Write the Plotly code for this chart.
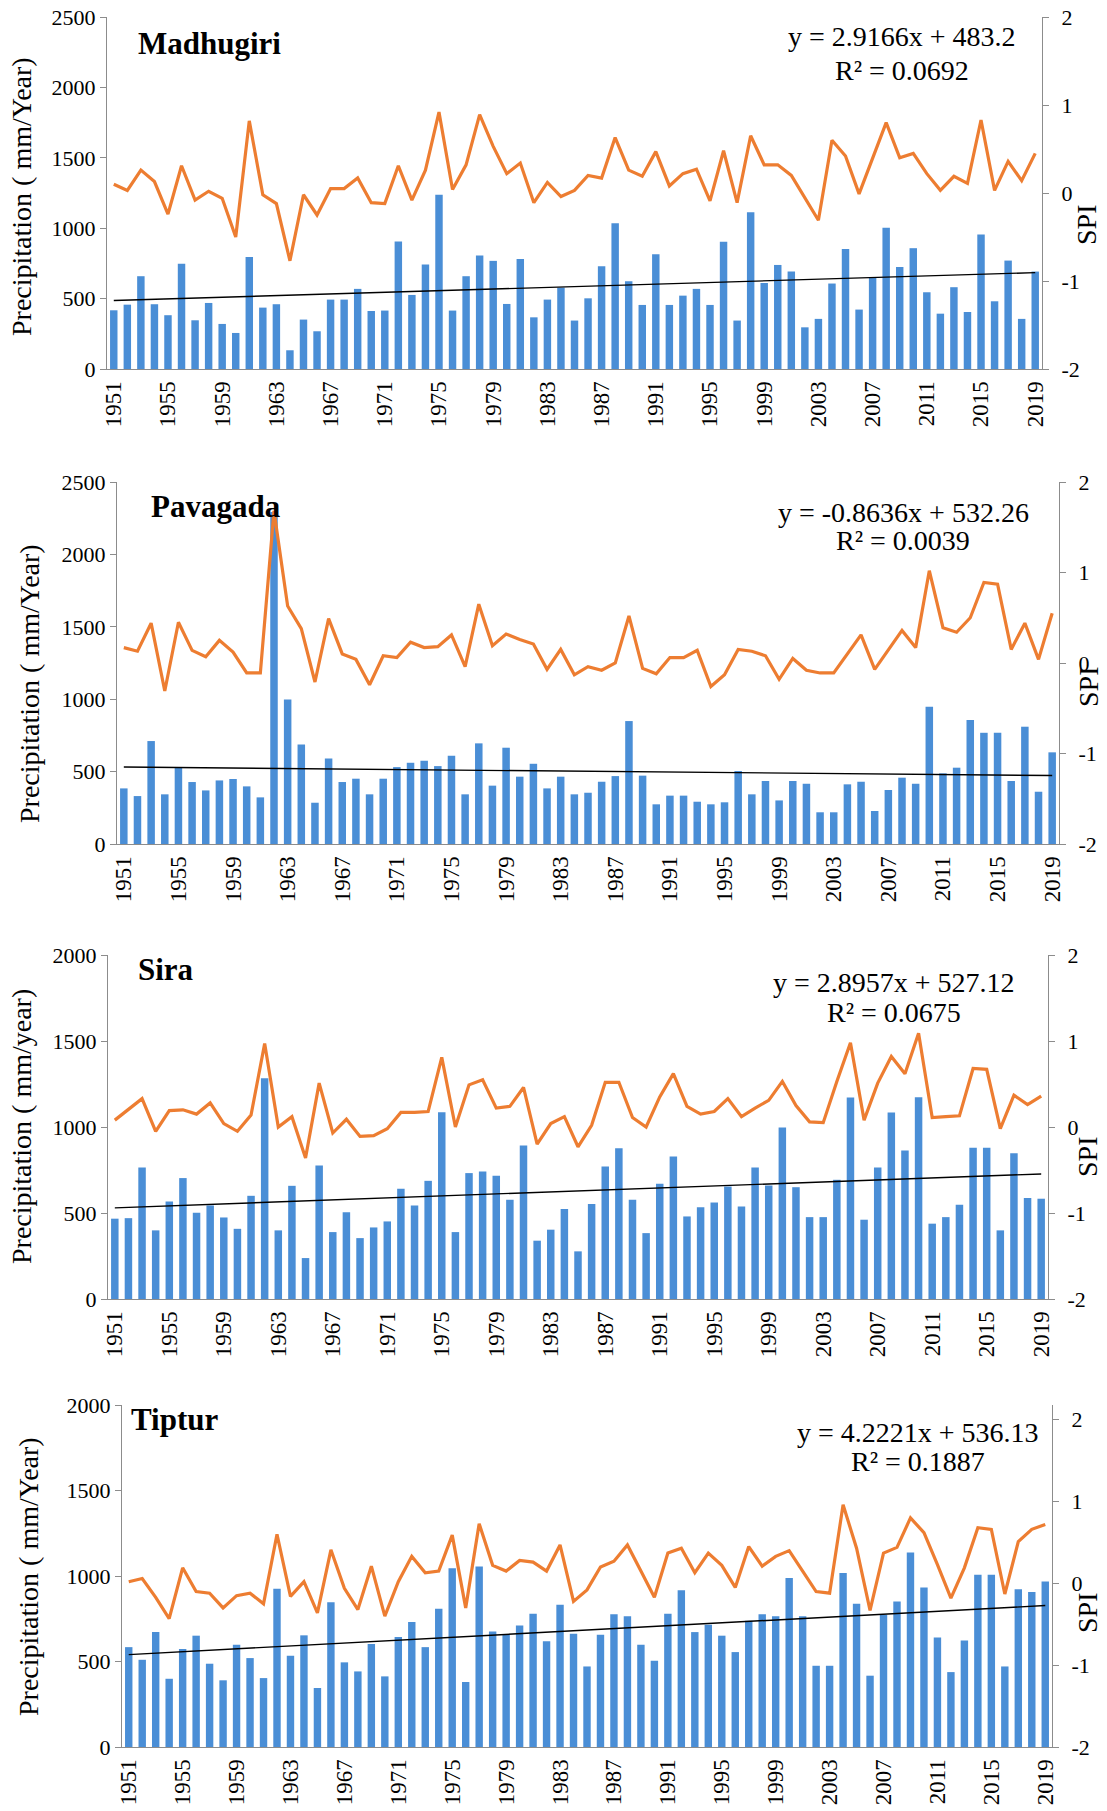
import plotly.graph_objects as go

years = list(range(1951, 2020))
year_ticks = list(range(1951, 2020, 4))

# ---- Madhugiri ----
madhugiri_rain = [417, 457, 659, 460, 382, 747, 346, 469, 320, 256, 796, 436, 460, 133, 351, 268, 493, 493, 569, 412, 415, 905, 526, 742,
                  1237, 415, 659, 806, 768, 462, 782, 367, 493, 578, 344, 502, 730, 1036, 623, 455, 815, 455, 521, 569, 455, 903, 344,
                  1114, 611, 739, 692, 296, 356, 607, 853, 422, 647, 1003, 725, 858, 545, 393, 581, 405, 955, 481, 770, 356, 692]
madhugiri_spi = [0.10, 0.03, 0.26, 0.13, -0.24, 0.31, -0.08, 0.02, -0.06, -0.50, 0.82, -0.02, -0.12, -0.77, -0.02, -0.25, 0.05, 0.05, 0.17, -0.11, -0.12, 0.31, -0.08, 0.26,
                 0.92, 0.04, 0.32, 0.89, 0.53, 0.22, 0.34, -0.11, 0.12, -0.04, 0.03, 0.20, 0.17, 0.63, 0.26, 0.19, 0.47, 0.08, 0.22, 0.27, -0.09, 0.48, -0.11,
                 0.65, 0.32, 0.32, 0.20, -0.05, -0.31, 0.60, 0.42, -0.01, 0.39, 0.80, 0.40, 0.45, 0.22, 0.03, 0.19, 0.11, 0.83, 0.03, 0.36, 0.14, 0.45]

# ---- Pavagada ----
pavagada_rain = [384, 331, 711, 343, 529, 428, 370, 439, 449, 398, 322, 2293, 998, 688, 285, 591, 428, 451, 343, 451, 531, 561, 575,
                 538, 610, 343, 695, 403, 665, 465, 554, 384, 465, 343, 354, 430, 469, 849, 472, 274, 334, 334, 292, 274, 288, 504,
                 343, 435, 301, 435, 416, 219, 219, 412, 430, 228, 373, 458, 416, 948, 488, 527, 856, 768, 768, 435, 810, 361, 633]
pavagada_spi = [0.17, 0.13, 0.44, -0.31, 0.45, 0.14, 0.07, 0.25, 0.12, -0.11, -0.11, 1.68, 0.63, 0.38, -0.21, 0.49, 0.10, 0.04, -0.24, 0.08, 0.06, 0.23, 0.17,
                0.18, 0.31, -0.04, 0.65, 0.19, 0.32, 0.26, 0.21, -0.07, 0.15, -0.13, -0.04, -0.08, 0.00, 0.52, -0.06, -0.12, 0.06, 0.06, 0.14, -0.26, -0.13, 0.15,
                0.13, 0.08, -0.18, 0.05, -0.08, -0.11, -0.11, 0.10, 0.31, -0.07, 0.15, 0.36, 0.17, 1.02, 0.39, 0.34, 0.50, 0.89, 0.87, 0.15, 0.44, 0.04, 0.55]

# ---- Sira ----
sira_rain = [467, 470, 765, 399, 567, 703, 501, 544, 474, 408, 600, 1284, 399, 658, 238, 776, 389, 505, 354, 416, 451, 641, 544, 687,
             1086, 389, 732, 742, 716, 577, 893, 339, 403, 523, 277, 552, 771, 877, 577, 383, 670, 829, 480, 534, 561,
             654, 538, 765, 660, 997, 650, 476, 476, 693, 1171, 461, 765, 1084, 863, 1173, 438, 476, 548, 880, 880, 399, 848, 587, 583]
sira_spi = [0.08, 0.20, 0.33, -0.05, 0.19, 0.20, 0.15, 0.28, 0.04, -0.05, 0.14, 0.97, 0.00, 0.12, -0.36, 0.51, -0.07, 0.09, -0.11, -0.10, -0.02, 0.17, 0.17, 0.18,
            0.81, 0.00, 0.49, 0.55, 0.22, 0.24, 0.46, -0.20, 0.04, 0.12, -0.23, 0.02, 0.52, 0.52, 0.11, 0.00, 0.35, 0.62, 0.24, 0.15, 0.18,
            0.33, 0.12, 0.22, 0.31, 0.53, 0.25, 0.06, 0.05, 0.53, 0.98, 0.08, 0.51, 0.82, 0.62, 1.09, 0.11, 0.12, 0.13, 0.68, 0.67, -0.02, 0.37, 0.26, 0.36]

# ---- Tiptur ----
tiptur_rain = [584, 510, 672, 399, 573, 651, 487, 390, 598, 520, 403, 925, 534, 653, 345, 847, 495, 442, 602, 413, 643, 731, 584,
               808, 1046, 380, 1056, 676, 660, 711, 779, 618, 832, 662, 471, 656, 777, 764, 598, 505, 779, 916, 672, 715,
               651, 555, 738, 777, 764, 988, 764, 475, 475, 1017, 838, 417, 773, 851, 1138, 933, 641, 438, 623, 1007, 1007, 471, 923, 906, 968]
tiptur_spi = [0.02, 0.06, -0.17, -0.43, 0.19, -0.10, -0.12, -0.30, -0.15, -0.12, -0.25, 0.60, -0.16, 0.02, -0.36, 0.41, -0.06, -0.32, 0.21, -0.40, 0.02, 0.33, 0.13,
              0.15, 0.59, -0.30, 0.73, 0.22, 0.15, 0.28, 0.26, 0.15, 0.47, -0.22, -0.08, 0.20, 0.27, 0.47, 0.15, -0.17, 0.37, 0.43, 0.13, 0.37,
              0.22, -0.05, 0.45, 0.21, 0.33, 0.40, 0.15, -0.10, -0.12, 0.96, 0.43, -0.33, 0.37, 0.44, 0.80, 0.62, 0.23, -0.18, 0.19, 0.68, 0.66, -0.13, 0.51, 0.66, 0.72]

station_names = ["Madhugiri", "Pavagada", "Sira", "Tiptur"]
trend_slopes = [2.9166, -0.8636, 2.8957, 4.2221]
trend_intercepts = [483.2, 532.26, 527.12, 536.13]
trend_eqs = ["y = 2.9166x + 483.2", "y = -0.8636x + 532.26", "y = 2.8957x + 527.12", "y = 4.2221x + 536.13"]
trend_r2 = ["R² = 0.0692", "R² = 0.0039", "R² = 0.0675", "R² = 0.1887"]
y_titles = ["Precipitation ( mm/Year)", "Precipitation ( mm/Year)", "Precipitation ( mm/year)", "Precipitation ( mm/Year)"]
rain_max = [2500, 2500, 2000, 2000]
spi_max = [2, 2, 2, 2.18]
spi_ticks = [-2, -1, 0, 1, 2]
spi_ticktext = ["-2", "-1", "0", "1", "2"]

rain_series = [madhugiri_rain, pavagada_rain, sira_rain, tiptur_rain]
spi_series = [madhugiri_spi, pavagada_spi, sira_spi, tiptur_spi]

# ---- layout geometry (pixels) ----
W, H = 1107, 1811
def px(x):
    return x / W
def py(y):
    return 1 - y / H

boxes = [(107, 1042, 17, 369), (117, 1059, 482, 844), (108, 1048, 955, 1299), (122, 1052, 1405, 1747)]
title_pos = [(136, 43), (149, 506), (136, 970), (129, 1419)]
eq_pos = [(902, 37, 70), (903, 512, 541), (894, 982, 1012), (918, 1432, 1461)]
ytitle_pos = [(21, 197), (30, 684), (21, 1127), (28, 1577)]
spititle_pos = [(1087, 225), (1088, 687), (1087, 1157), (1087, 1613)]

SERIF = "Liberation Serif"
BLUE = "#4A8ED6"
ORANGE = "#ED7D31"
AXC = "#8c8c8c"

fig = go.Figure()
layout = dict(width=W, height=H, margin=dict(l=0, r=0, t=0, b=0, pad=0, autoexpand=False), autosize=False,
              paper_bgcolor="white", plot_bgcolor="white", showlegend=False,
              font=dict(family=SERIF, color="black"), bargap=0.45, hovermode=False)
annotations = []

for k in range(4):
    xa = f"x{k+1}"
    yl = f"y{2*k+1}"
    yr = f"y{2*k+2}"
    rain = rain_series[k]
    spi = spi_series[k]
    trend = [trend_slopes[k] * (i + 1) + trend_intercepts[k] for i in range(len(years))]

    fig.add_trace(go.Bar(x=years, y=rain, xaxis=xa, yaxis=yl, marker_color=BLUE,
                         marker_line_width=0, width=0.55))
    fig.add_trace(go.Scatter(x=years, y=trend, xaxis=xa, yaxis=yl, mode="lines",
                             line=dict(color="black", width=1.4)))
    fig.add_trace(go.Scatter(x=years, y=spi, xaxis=xa, yaxis=yr, mode="lines",
                             line=dict(color=ORANGE, width=3.2)))

    l, r, t, b = boxes[k]
    layout[f"xaxis{k+1}"] = dict(domain=[px(l), px(r)], range=[1950.5, 2019.5], anchor=yl,
                                 tickmode="array", tickvals=year_ticks, tickangle=-90,
                                 ticks="", showline=True, linecolor=AXC, linewidth=1,
                                 showgrid=False, zeroline=False, automargin=False,
                                 ticklabelstandoff=2,
                                 tickfont=dict(family=SERIF, size=23, color="black"))
    layout[f"yaxis{2*k+1}"] = dict(domain=[py(b), py(t)], range=[0, rain_max[k]], dtick=500,
                                   anchor=xa, ticks="outside", ticklen=6, tickcolor=AXC,
                                   showline=True, linecolor=AXC, linewidth=1,
                                   showgrid=False, zeroline=False, automargin=False,
                                   tickfont=dict(family=SERIF, size=22, color="black"))
    layout[f"yaxis{2*k+2}"] = dict(overlaying=yl, side="right", anchor=xa, range=[-2, spi_max[k]],
                                   tickmode="array", tickvals=spi_ticks, ticktext=spi_ticktext,
                                   ticks="outside", ticklen=6, tickcolor=AXC,
                                   showline=True, linecolor=AXC, linewidth=1,
                                   showgrid=False, zeroline=False, automargin=False,
                                   ticklabelstandoff=8,
                                   tickfont=dict(family=SERIF, size=22, color="black"))

    tx, ty = title_pos[k]
    annotations.append(dict(text=f"<b>{station_names[k]}</b>", x=px(tx), y=py(ty), xref="paper", yref="paper",
                            xanchor="left", yanchor="middle", showarrow=False,
                            font=dict(family=SERIF, size=31, color="black")))
    ex, ey1, ey2 = eq_pos[k]
    annotations.append(dict(text=trend_eqs[k], x=px(ex), y=py(ey1), xref="paper", yref="paper",
                            xanchor="center", yanchor="middle", showarrow=False,
                            font=dict(family=SERIF, size=28, color="black")))
    annotations.append(dict(text=trend_r2[k], x=px(ex), y=py(ey2), xref="paper", yref="paper",
                            xanchor="center", yanchor="middle", showarrow=False,
                            font=dict(family=SERIF, size=28, color="black")))
    yx, yy = ytitle_pos[k]
    annotations.append(dict(text=y_titles[k], x=px(yx), y=py(yy), xref="paper", yref="paper",
                            xanchor="center", yanchor="middle", textangle=-90, showarrow=False,
                            font=dict(family=SERIF, size=28, color="black")))
    sx, sy = spititle_pos[k]
    annotations.append(dict(text="SPI", x=px(sx), y=py(sy), xref="paper", yref="paper",
                            xanchor="center", yanchor="middle", textangle=-90, showarrow=False,
                            font=dict(family=SERIF, size=28, color="black")))

layout["annotations"] = annotations
fig.update_layout(**layout)
fig.write_html("out.html")
